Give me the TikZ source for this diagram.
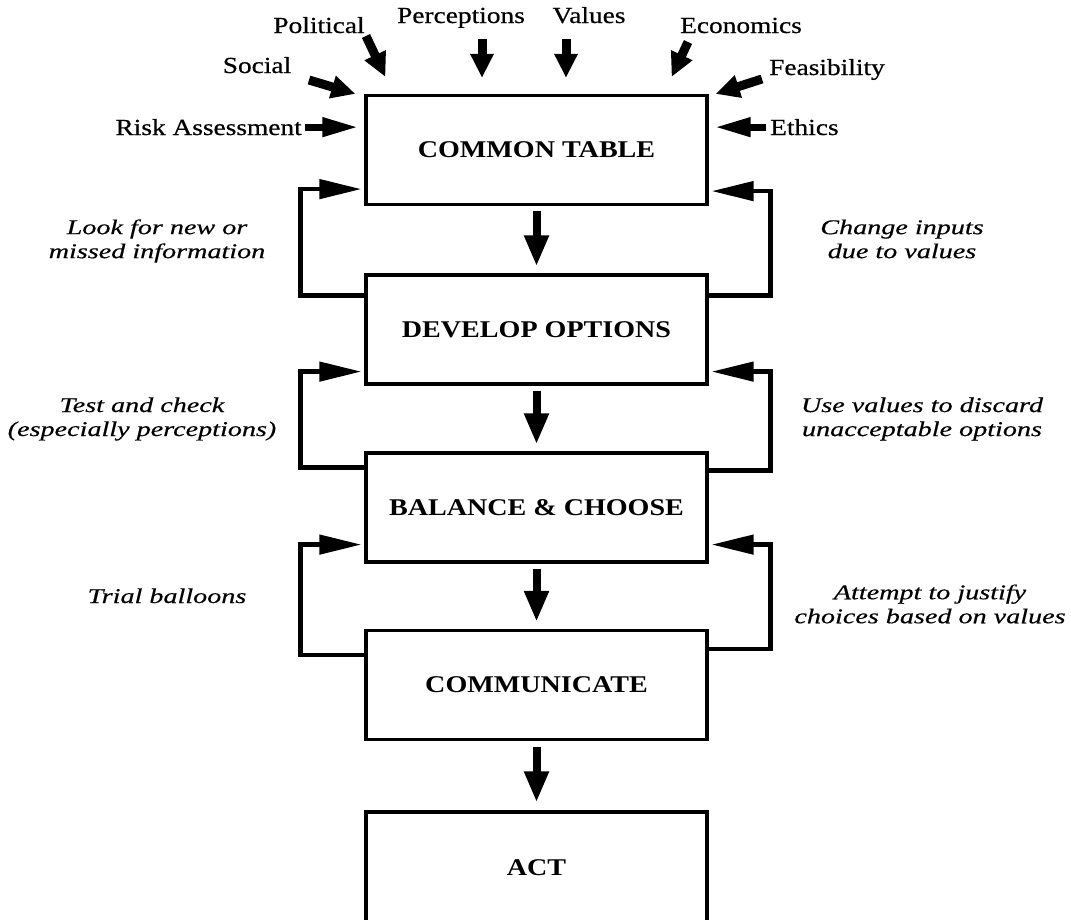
\documentclass[tikz,border=0pt]{standalone}
\usepackage{fontspec}
\setmainfont{Liberation Serif}
\newfontfamily\inputfont{Liberation Serif}[FakeStretch=1.19,FakeBold=0.6]
\newfontfamily\stagefont{Liberation Serif}[FakeStretch=1.17]
\newfontfamily\notefont{Liberation Serif}[FakeStretch=1.34,FakeBold=0.4]
\usetikzlibrary{arrows.meta,calc}

\begin{document}
\begin{tikzpicture}[x=1pt,y=-1pt,
  stage/.style={draw, line width=3.2pt, minimum width=341pt, minimum height=109pt,
    inner sep=0pt, font=\stagefont\bfseries\fontsize{24}{28}\selectfont},
  input/.style={font=\inputfont\fontsize{23}{27}\selectfont, inner sep=0pt},
  note/.style={font=\notefont\itshape\fontsize{21}{24}\selectfont, align=center, inner sep=0pt},
  flow/.style={line width=8pt, -{Triangle[length=31pt,width=23pt]}},
  feedback/.style={line width=4.5pt, miter limit=10, -{Triangle[length=42pt,width=19pt]}, shorten >=3pt},
  push/.style={line width=9pt, -{Triangle[length=24pt,width=22pt]}},
  pushlong/.style={line width=7pt, -{Triangle[length=36pt,width=18pt]}},
]
\useasboundingbox (0,0) rectangle (1071,919);

% stages of the process
\node[stage] (table) at (536.5,150) {COMMON TABLE};
\node[stage] (develop) at (536.5,329.5) {DEVELOP OPTIONS};
\node[stage] (balance) at (536.5,507.5) {BALANCE \& CHOOSE};
\node[stage] (communicate) at (536.5,685) {COMMUNICATE};
\node[stage, minimum height=112pt] (act) at (536.5,868) {ACT};

% main flow
\draw[flow] ([yshift=-5pt]table.south) -- ([yshift=7pt]develop.north);
\draw[flow] ([yshift=-5pt]develop.south) -- ([yshift=7pt]balance.north);
\draw[flow] ([yshift=-5pt]balance.south) -- ([yshift=7pt]communicate.north);
\draw[flow] ([yshift=-6pt]communicate.south) -- ([yshift=8pt]act.north);

% inputs to the common table
\node[input, anchor=base] (political) at (319,33) {Political};
\node[input, anchor=base] (perceptions) at (461,23) {Perceptions};
\node[input, anchor=base] (values) at (589,23) {Values};
\node[input, anchor=base] (economics) at (741,33) {Economics};
\node[input, anchor=base] (social) at (257,73) {Social};
\node[input, anchor=base] (feasibility) at (827,75) {Feasibility};
\node[input, anchor=base east] (risk) at (302,135) {Risk Assessment};
\node[input, anchor=base west] (ethics) at (770,135) {Ethics};

\coordinate (social-tail) at (309,80);
\coordinate (political-tail) at (366,36);
\coordinate (perceptions-tail) at (482,39);
\coordinate (values-tail) at (566,39);
\coordinate (economics-tail) at (688,42);
\coordinate (feasibility-tail) at (762,79);

\draw[push] (social-tail) -- ([xshift=-9pt]table.north west);
\draw[push] (political-tail) -- ([xshift=21pt,yshift=17pt]table.north west);
\draw[push] (perceptions-tail) -- ([xshift=-54.5pt,yshift=16pt]table.north);
\draw[push] (values-tail) -- ([xshift=29.5pt,yshift=16pt]table.north);
\draw[push] (economics-tail) -- ([xshift=-37pt,yshift=17pt]table.north east);
\draw[push] (feasibility-tail) -- ([xshift=7pt]table.north east);
\draw[pushlong] ([xshift=3pt]risk.east) -- ($(risk.east -| table.west)+(-6,0)$);
\draw[pushlong] ([xshift=-4pt]ethics.west) -- ($(ethics.west -| table.east)+(6,0)$);

% feedback loops, left side
\draw[feedback] ([yshift=-22pt]develop.north west) -- ++(-64,0) |- ([yshift=17pt]table.south west);
\draw[feedback] ([yshift=-16pt]balance.north west) -- ++(-64,0) |- ([yshift=14pt]develop.south west);
\draw[feedback] ([yshift=-26pt]communicate.north west) -- ++(-64,0) |- ([yshift=19pt]balance.south west);

% feedback loops, right side
\draw[feedback] ([yshift=-22pt]develop.north east) -- ++(62,0) |- ([yshift=15pt]table.south east);
\draw[feedback] ([yshift=-19pt]balance.north east) -- ++(62,0) |- ([yshift=14pt]develop.south east);
\draw[feedback] ([yshift=-20pt]communicate.north east) -- ++(62,0) |- ([yshift=19pt]balance.south east);

% loop annotations
\node[note] (look) at (157,241) {Look for new or\\missed information};
\node[note] (change) at (902,239) {Change inputs\\due to values};
\node[note] (test) at (142,419) {Test and check\\(especially perceptions)};
\node[note] (discard) at (922,419) {Use values to discard\\unacceptable options};
\node[note, anchor=base] (trial) at (167,603) {Trial balloons};
\node[note] (justify) at (930,604) {Attempt to justify\\choices based on values};
\end{tikzpicture}
\end{document}
